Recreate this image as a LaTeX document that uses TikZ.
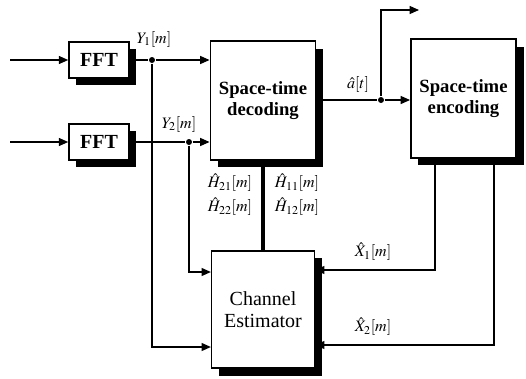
\documentclass[tikz,border=0pt]{standalone}
\usepackage{mathptmx}
\usepackage{fontspec}
\setmainfont{Liberation Serif}
\usetikzlibrary{positioning,arrows.meta,shadows,calc}

\begin{document}
\begin{tikzpicture}[x=0.75pt, y=-0.75pt, line width=0.9pt,
      >={Triangle[length=7pt,width=6pt]},
      blk/.style={draw, line width=1.2pt, fill=white, align=center, inner sep=0pt,
                  font=\fontsize{14}{16}\selectfont\bfseries,
                  general shadow={fill=black, shadow xshift=5.5pt, shadow yshift=-5.5pt}},
      fftbox/.style={blk, minimum width=45pt, minimum height=27pt,
                     font=\fontsize{15}{16}\selectfont\bfseries},
      stbox/.style={blk, minimum width=79pt, minimum height=89pt},
      lbl/.style={font=\fontsize{12}{13}\selectfont, inner sep=1pt},
      dot/.style={circle, fill=black, inner sep=0pt, minimum size=4.5pt}]
    \useasboundingbox (0,0) rectangle (526,379);
    % blocks
    \node[fftbox] (fft1) at (99,60)  {FFT};
    \node[fftbox] (fft2) at (99,142) {FFT};
    \node[stbox] (dec) at (263,100.5) {Space-time\\decoding};
    \node[stbox] (enc) at (463.5,98.5) {Space-time\\encoding};
    \node[stbox, minimum width=77pt, minimum height=88pt,
          font=\fontsize{15}{17}\selectfont] (ce) at (263,309.5) {Channel\\Estimator};
    % inputs
    \coordinate (in1) at (10,60);
    \coordinate (in2) at (10,142);
    \draw[->] (in1) -- (fft1);
    \draw[->] (in2) -- (fft2);
    % received signals
    \node[dot] (j1) at (152,60) {};
    \node[dot] (j2) at (189,142) {};
    \draw (fft1) -- (j1);
    \draw (fft2) -- (j2);
    \draw[->] (j1) -- (dec.west |- j1);
    \draw[->] (j2) -- (dec.west |- j2);
    \draw[->] (j1) |- (ce.west |- 0,347);
    \draw[->] (j2) |- (ce.west |- 0,272);
    \node[lbl] (y1) at (154,39)  {$Y_1[m]$};
    \node[lbl] (y2) at (179,124) {$Y_2[m]$};
    % decoder output
    \node[dot] (j3) at (381,100) {};
    \coordinate (out) at (419,10);
    \draw (dec.east |- j3) -- (j3);
    \draw[->] (j3) -- (enc.west |- j3);
    \draw[->] (j3) |- (out);
    \node[lbl] (ahat) at (358,84) {$\hat{a}[t]$};
    % channel estimates
    \draw[line width=3pt] (dec.south) -- (ce.north);
    \node[lbl] (h21) at (230,183) {$\hat{H}_{21}[m]$};
    \node[lbl] (h22) at (230,207) {$\hat{H}_{22}[m]$};
    \node[lbl] (h11) at (297,183) {$\hat{H}_{11}[m]$};
    \node[lbl] (h12) at (297,207) {$\hat{H}_{12}[m]$};
    % re-encoded symbols
    \draw[->] (enc.south -| 435,0) |- (ce.east |- 0,270);
    \draw[->] (enc.south -| 494,0) |- (ce.east |- 0,345);
    \node[lbl] (x1) at (373,252) {$\hat{X}_1[m]$};
    \node[lbl] (x2) at (373,327) {$\hat{X}_2[m]$};
  \end{tikzpicture}
\end{document}
